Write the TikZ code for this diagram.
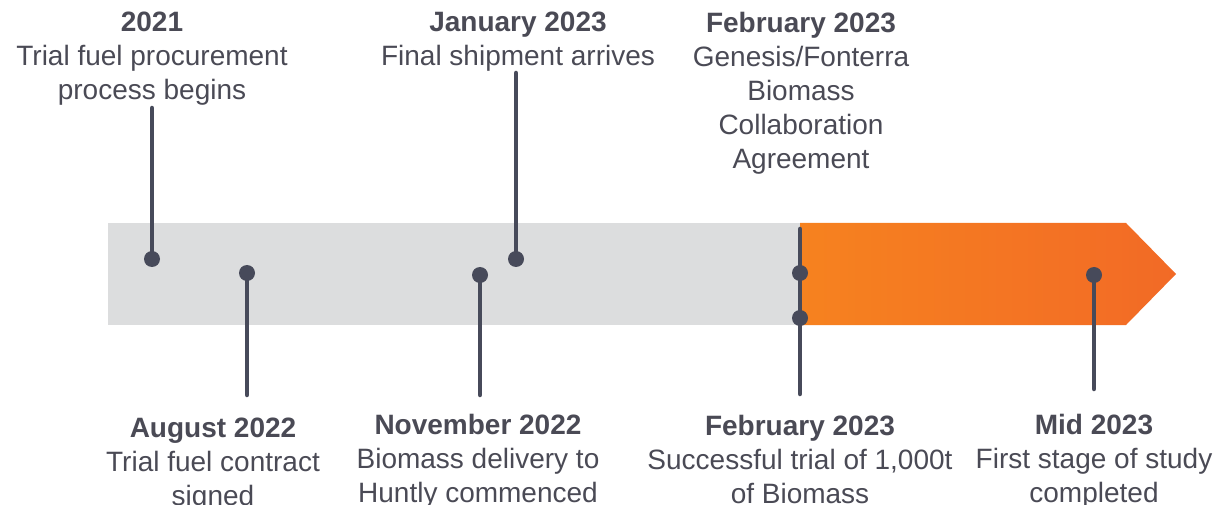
\documentclass[tikz,border=0pt]{standalone}
\usepackage{fontspec}
\setmainfont{Liberation Sans}
\definecolor{txt}{HTML}{4A4A55}
\definecolor{pinc}{HTML}{474A5A}
\definecolor{barg}{HTML}{DCDDDE}
\definecolor{orl}{HTML}{F6821F}
\definecolor{orr}{HTML}{F26A26}
\begin{document}
\begin{tikzpicture}[x=1pt,y=-1pt,
  lbl/.style={anchor=north,inner sep=0pt,align=center,text=txt,font=\fontsize{28}{34}\selectfont},
  dot/.style={circle,fill=pinc,minimum size=16pt,inner sep=0pt},
  pin/.style={draw=pinc,line width=4.5pt,line cap=round}]
\useasboundingbox (0,0) rectangle (1216,505);
% bars
\fill[barg] (108,223) rectangle (800,325);
\shade[left color=orl,right color=orr] (800,223) -- (1126,223) -- (1176,274) -- (1126,325) -- (800,325) -- cycle;
% pins
\node[dot] (d1) at (152,259) {};
\coordinate (e1) at (152,108);
\draw[pin] (d1.center) -- (e1);
\node[dot] (d2) at (247,273) {};
\coordinate (e2) at (247,395);
\draw[pin] (d2.center) -- (e2);
\node[dot] (d3) at (480,275) {};
\coordinate (e3) at (480,395);
\draw[pin] (d3.center) -- (e3);
\node[dot] (d4) at (516,259) {};
\coordinate (e4) at (516,73);
\draw[pin] (d4.center) -- (e4);
\coordinate (e5a) at (800,229);
\coordinate (e5b) at (800,394);
\draw[pin] (e5a) -- (e5b);
\node[dot] (d5) at (800,273) {};
\node[dot] (d6) at (800,318) {};
\node[dot] (d7) at (1094,275) {};
\coordinate (e7) at (1094,389);
\draw[pin] (d7.center) -- (e7);
% labels
\node[lbl] (t1) at (152,12) {\textbf{2021}\\Trial fuel procurement\\process begins};
\node[lbl] (t4) at (518,12) {\textbf{January 2023}\\Final shipment arrives};
\node[lbl] (t5) at (801,12) {\textbf{February 2023}\\Genesis/Fonterra\\Biomass\\Collaboration\\Agreement};
\node[lbl] (t2) at (213,418) {\textbf{August 2022}\\Trial fuel contract\\signed};
\node[lbl] (t3) at (478,414) {\textbf{November 2022}\\Biomass delivery to\\Huntly commenced};
\node[lbl] (t6) at (800,415) {\textbf{February 2023}\\Successful trial of 1,000t\\of Biomass};
\node[lbl] (t7) at (1094,414) {\textbf{Mid 2023}\\First stage of study\\completed};
\end{tikzpicture}
\end{document}
